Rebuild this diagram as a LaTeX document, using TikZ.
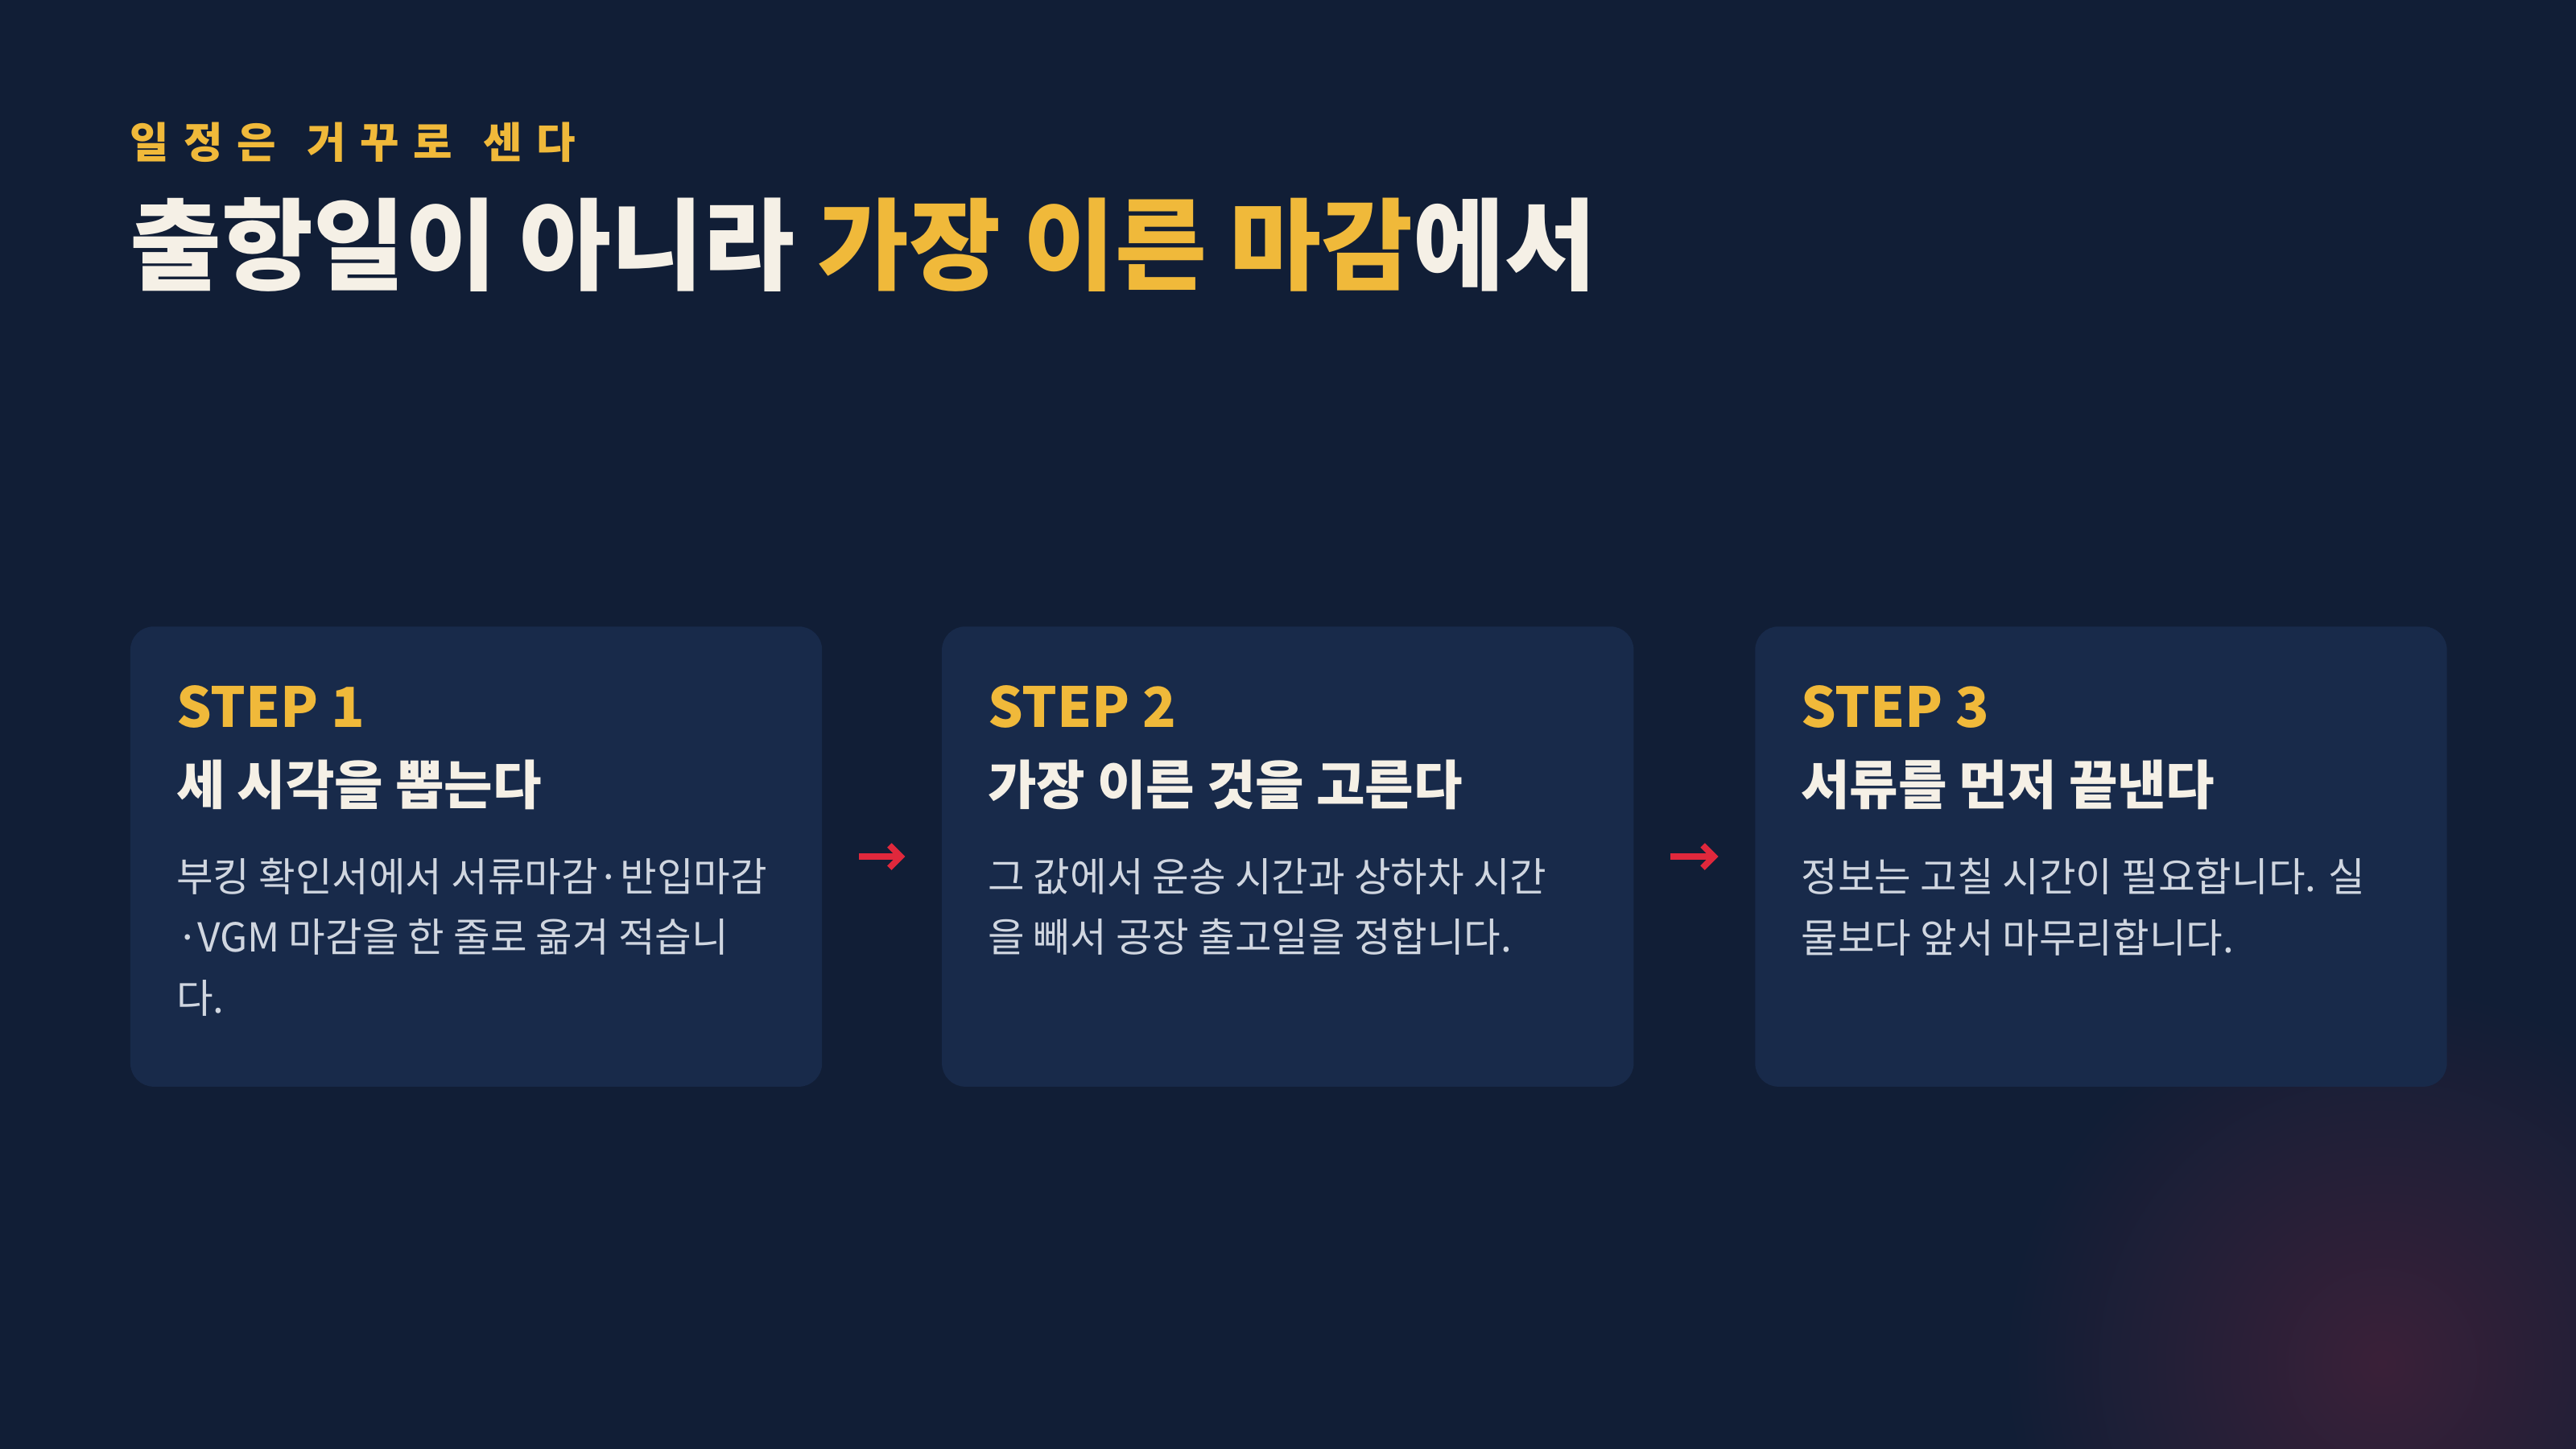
\documentclass[tikz,border=0pt]{standalone}
\usepackage{fontspec}
\setmainfont{Noto Sans CJK KR}
\usetikzlibrary{positioning}
\usetikzlibrary{arrows.meta}
\definecolor{bgnavy}{HTML}{111E36}
\definecolor{cardnavy}{HTML}{182A4A}
\definecolor{gold}{HTML}{F0B93A}
\definecolor{ivory}{HTML}{F5F0E6}
\definecolor{bodygray}{HTML}{D0D6E0}
\definecolor{arrowred}{HTML}{E0283C}
\definecolor{glow}{HTML}{3A2038}
\tikzset{
  card/.style={fill=cardnavy, rounded corners=0.29cm, minimum width=8.59cm, minimum height=5.714cm, anchor=north west, inner sep=0pt},
  steplabel/.style={anchor=north west, inner sep=0pt, text=gold, font=\fontsize{19.5}{23}\selectfont\bfseries},
  stephead/.style={anchor=north west, inner sep=0pt, text=ivory, font=\fontsize{18.7}{22}\selectfont\bfseries},
  stepbody/.style={anchor=north west, inner sep=0pt, text=bodygray, align=left, font=\fontsize{14.1}{21.5}\selectfont},
  flow/.style={-{Straight Barb[length=4pt,width=8pt]}, arrowred, line width=2.2pt, shorten <=0.45cm, shorten >=0.45cm}
}
\begin{document}
\begin{tikzpicture}[x=0.0204082cm, y=-0.0204082cm]
    \fill[bgnavy] (0,0) rectangle (1568,882);
    \useasboundingbox (0,0) rectangle (1568,882);

    % faint glow in the corner
    \begin{scope}
    \clip (0,0) rectangle (1568,882);
    \shade[inner color=glow, outer color=bgnavy] (1450,830) circle (230);
    \end{scope}

    % title
    \node[anchor=north west, inner sep=0pt, text=gold, font=\fontsize{15}{18}\selectfont\bfseries] (kicker) at (79,74) {일\,\,정\,\,은\,\,\, 거\,\,꾸\,\,로\,\,\, 센\,\,다};
    \node[anchor=north west, inner sep=0pt, text=ivory, font=\fontsize{35.2}{42}\selectfont\bfseries] (title) at (79,120) {출항일이 아니라 \textcolor{gold}{가장 이른 마감}에서};

    % cards
    \node[card] (card1) at (79,381) {};
    \node[card] (card2) at (573,381) {};
    \node[card] (card3) at (1068,381) {};

    \node[steplabel] (step1) at (107,417) {STEP 1};
    \node[stephead] (head1) at (107,462) {세 시각을 뽑는다};
    \node[stepbody] (body1) at (107,522) {부킹 확인서에서 서류마감·반입마감\\·VGM 마감을 한 줄로 옮겨 적습니\\다.};

    \node[steplabel] (step2) at (601,417) {STEP 2};
    \node[stephead] (head2) at (601,462) {가장 이른 것을 고른다};
    \node[stepbody] (body2) at (601,522) {그 값에서 운송 시간과 상하차 시간\\을 빼서 공장 출고일을 정합니다.};

    \node[steplabel] (step3) at (1096,417) {STEP 3};
    \node[stephead] (head3) at (1096,462) {서류를 먼저 끝낸다};
    \node[stepbody] (body3) at (1096,522) {정보는 고칠 시간이 필요합니다. 실\\물보다 앞서 마무리합니다.};

    % connectors
    \draw[flow] (card1.east) -- (card2.west);
    \draw[flow] (card2.east) -- (card3.west);

\end{tikzpicture}
\end{document}
